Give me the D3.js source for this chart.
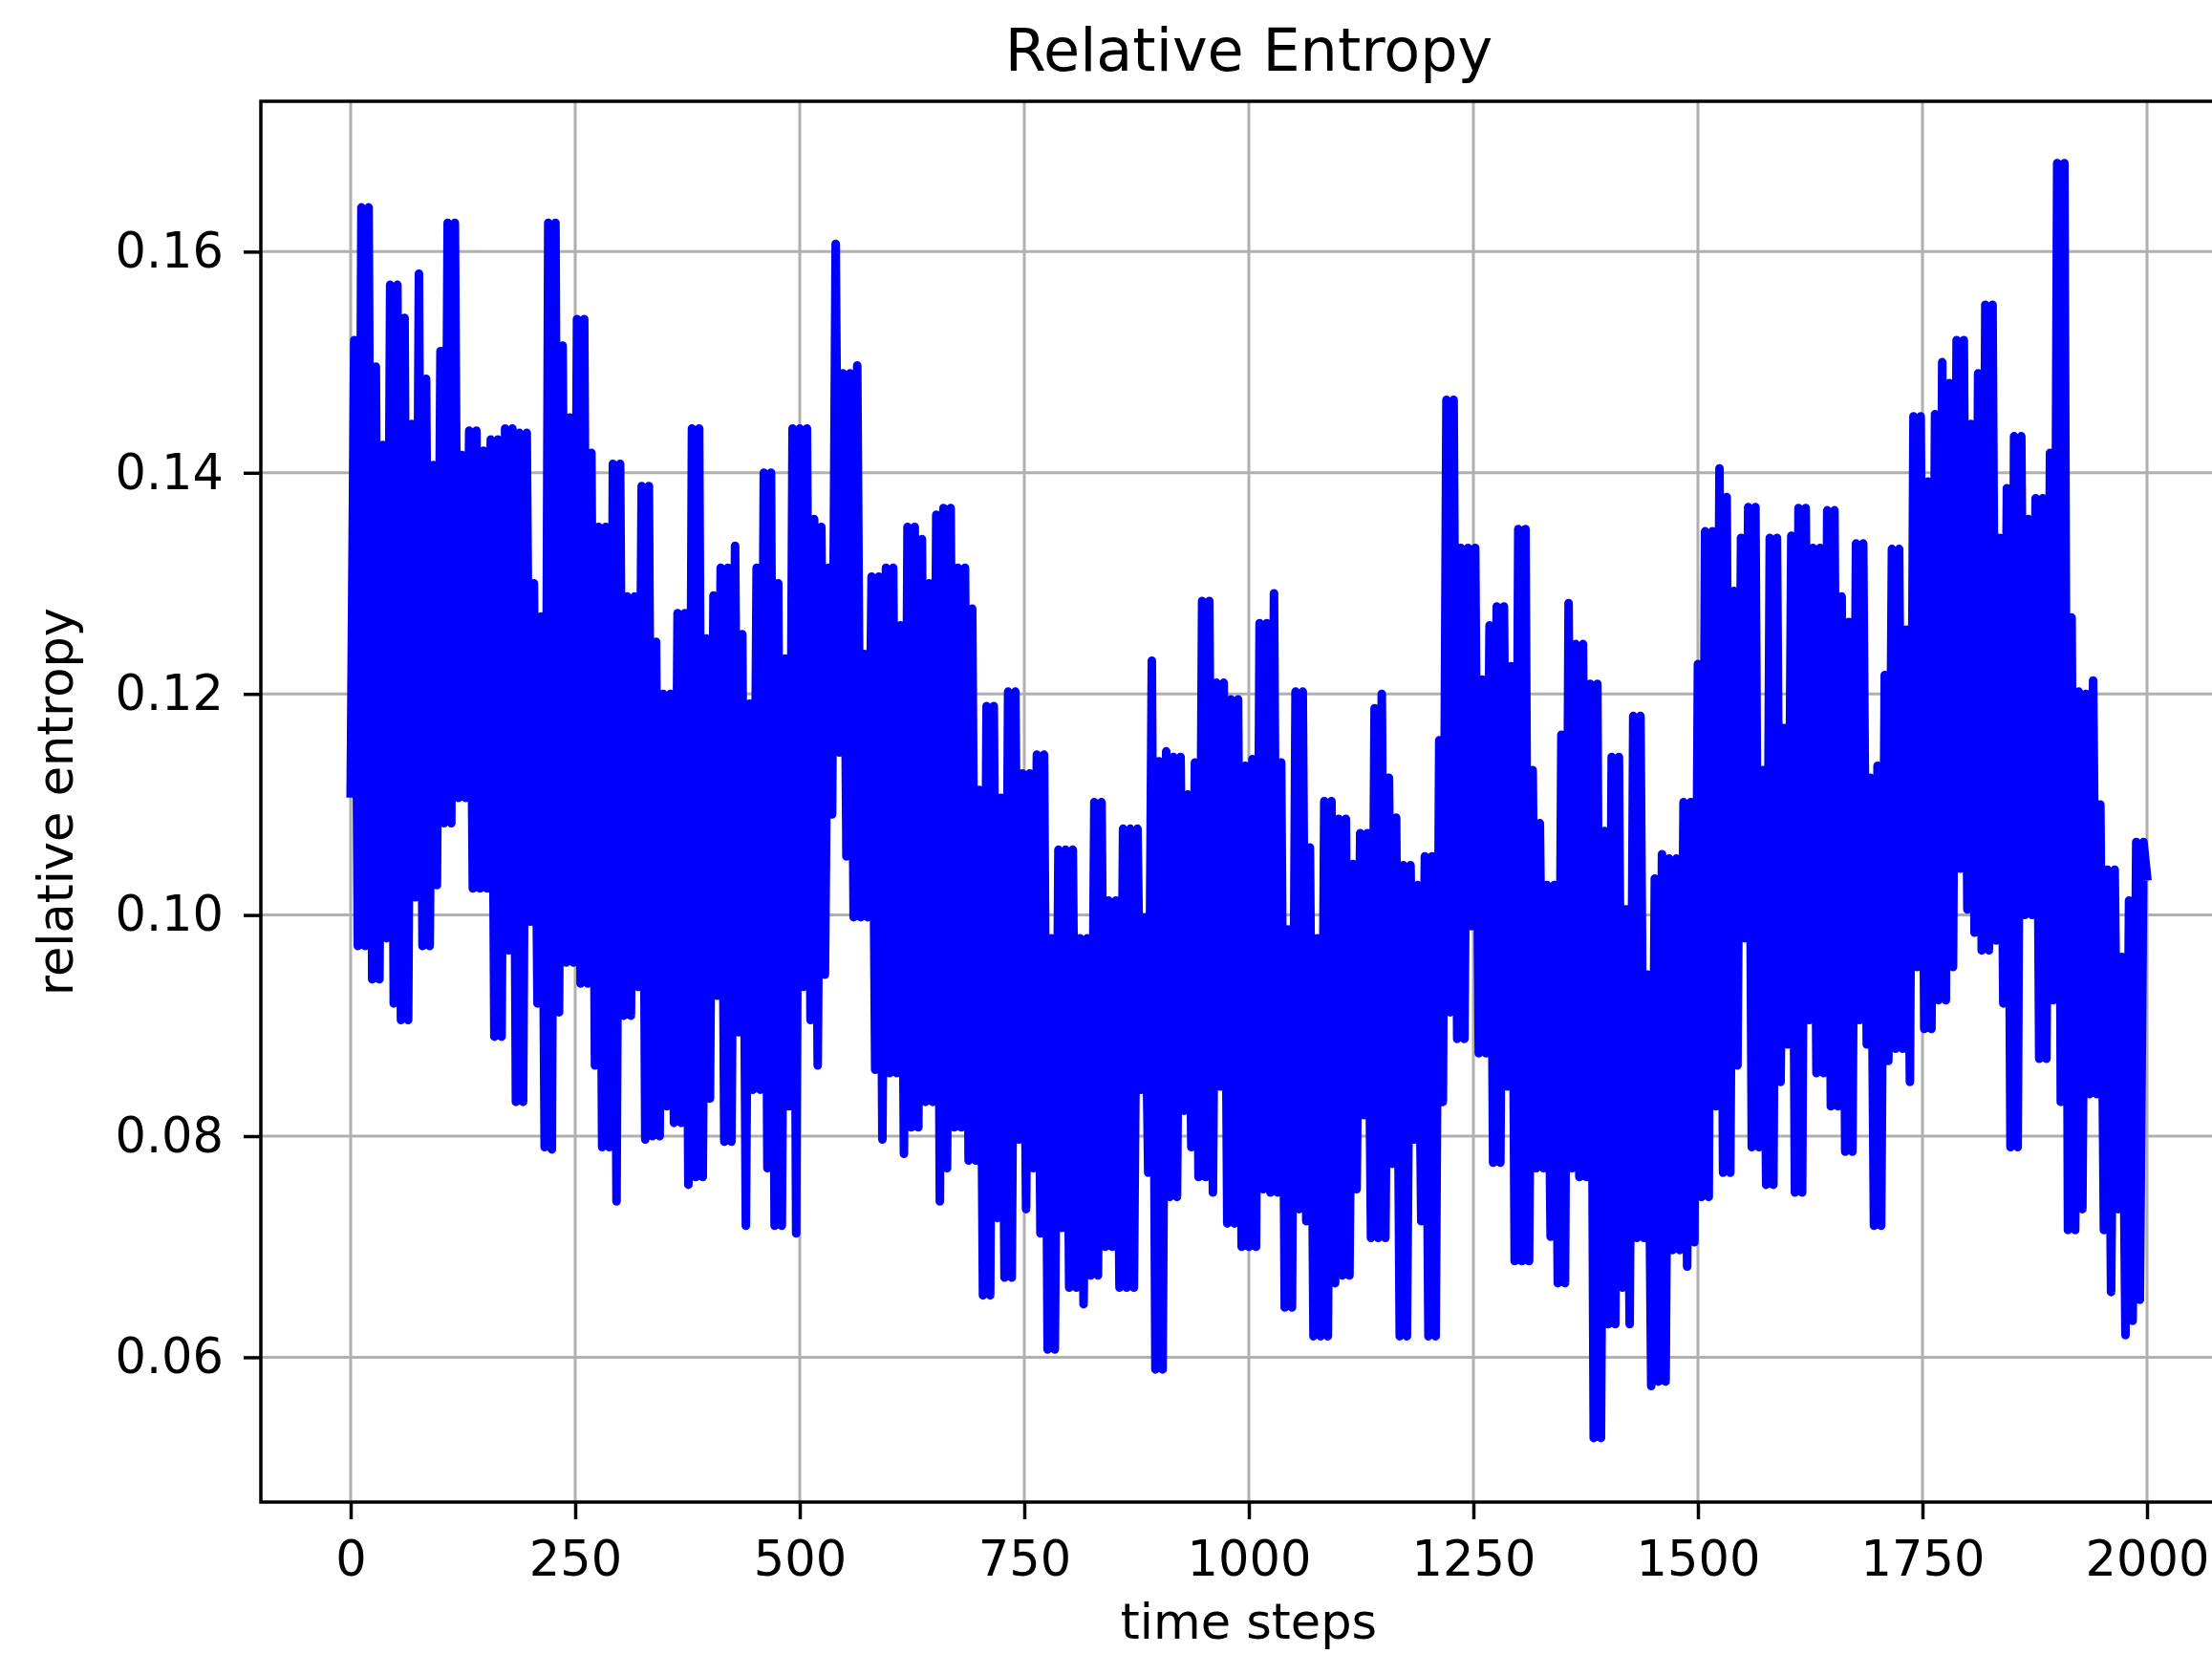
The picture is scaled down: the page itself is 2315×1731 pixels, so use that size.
<!DOCTYPE html>
<html>
<head>
<meta charset="utf-8">
<script src="https://cdn.jsdelivr.net/npm/d3@7"></script>
<style>
  html, body { margin: 0; padding: 0; background: #fff; }
  svg { display: block; }
  text { font-family: "DejaVu Sans", sans-serif; fill: #000; }
</style>
</head>
<body>
<svg id="chart" width="2315" height="1731"></svg>
<script>
// ---- data ----
const chartTitle = "Relative Entropy";
const xLabel = "time steps";
const yLabel = "relative entropy";
const xTicks = [0, 250, 500, 750, 1000, 1250, 1500, 1750, 2000];
const yTicks = [0.06, 0.08, 0.10, 0.12, 0.14, 0.16];
const stepInterval = 4; // one sample every 4 time steps, t = 0..2000
const entropy = [
  // t 0 - 248
  0.111,0.152,0.0972,0.164,0.0972,0.164,0.0942,0.1496,0.0942,0.1425,0.0979,0.157,0.092,0.157,0.0905,0.154,
  0.0905,0.1444,0.1016,0.158,0.0972,0.1485,0.0972,0.1407,0.1027,0.151,0.1083,0.1626,0.1083,0.1626,0.1106,0.1416,
  0.1106,0.1438,0.1024,0.1438,0.1024,0.142,0.1024,0.143,0.089,0.143,0.089,0.144,0.0968,0.144,0.0831,0.1436,
  0.0831,0.1436,0.0994,0.130,0.092,0.127,0.079,0.1626,0.0788,0.1626,0.0912,0.1515,0.0957,0.145,0.0957,
  // t 252 - 496
  0.1539,0.0938,0.1539,0.0938,0.1418,0.0864,0.1351,0.079,0.1351,0.079,0.1408,0.0741,0.1408,0.0909,0.1288,0.0909,
  0.1288,0.0935,0.1388,0.0797,0.1388,0.080,0.1247,0.080,0.120,0.0827,0.120,0.0812,0.1273,0.0812,0.1273,0.0756,
  0.144,0.0763,0.144,0.0763,0.125,0.0834,0.1289,0.0927,0.1314,0.0795,0.1314,0.0795,0.1334,0.0894,0.1254,0.0719,
  0.1191,0.0842,0.1314,0.0842,0.140,0.0771,0.140,0.0719,0.130,0.0719,0.1232,0.0827,0.144,0.0712,
  // t 500 - 748
  0.144,0.0935,0.144,0.0905,0.1358,0.0864,0.1351,0.0946,0.1314,0.1091,0.1607,0.1147,0.149,0.1053,0.149,0.0998,
  0.1497,0.0998,0.1236,0.0998,0.1306,0.086,0.1306,0.0797,0.1314,0.0857,0.1314,0.0857,0.1262,0.0784,0.1351,0.0808,
  0.1351,0.0808,0.134,0.0831,0.130,0.0831,0.1362,0.0741,0.1368,0.0771,0.1368,0.0808,0.1314,0.0808,0.1314,0.0778,
  0.1277,0.0778,0.1113,0.0656,0.1189,0.0656,0.1189,0.0726,0.1106,0.0672,0.1202,0.0672,0.1202,0.0797,0.1128,
  // t 752 - 996
  0.0734,0.1128,0.0771,0.1145,0.0712,0.1145,0.0607,0.0979,0.0607,0.1059,0.0717,0.1059,0.0663,0.1059,0.0663,0.0979,
  0.0648,0.0979,0.0674,0.1102,0.0674,0.1102,0.070,0.1013,0.070,0.1013,0.0663,0.1078,0.0663,0.1078,0.0663,0.1078,
  0.0842,0.0998,0.0767,0.123,0.0589,0.1139,0.0589,0.1148,0.0745,0.1143,0.0745,0.1143,0.0823,0.1109,0.079,0.1138,
  0.0763,0.1284,0.0763,0.1284,0.0749,0.121,0.0845,0.121,0.0721,0.1195,0.0721,0.1195,0.070,0.1135,
  // t 1000 - 1248
  0.070,0.1141,0.070,0.1264,0.0752,0.1264,0.0749,0.1291,0.0749,0.1138,0.0645,0.0987,0.0645,0.1202,0.0734,0.1202,
  0.0723,0.1061,0.0619,0.0979,0.0619,0.1103,0.0619,0.1103,0.0667,0.1087,0.0674,0.1087,0.0674,0.1046,0.0752,0.1074,
  0.0819,0.1074,0.0708,0.1187,0.0708,0.120,0.0708,0.1124,0.0775,0.1088,0.0619,0.1045,0.0619,0.1045,0.0797,0.1027,
  0.0723,0.1053,0.0619,0.1053,0.0619,0.1158,0.0831,0.1466,0.0912,0.1466,0.0888,0.1332,0.0888,0.1332,0.099,
  // t 1252 - 1496
  0.1332,0.0875,0.1213,0.0875,0.1262,0.0776,0.1279,0.0776,0.1279,0.0845,0.1225,0.0687,0.1349,0.0687,0.1349,0.0687,
  0.1131,0.0771,0.1083,0.0771,0.1027,0.0709,0.1027,0.0667,0.1163,0.0667,0.1282,0.0771,0.1245,0.0763,0.1245,0.0763,
  0.1209,0.0527,0.1209,0.0527,0.1076,0.063,0.1143,0.063,0.1143,0.0663,0.1005,0.063,0.118,0.0708,0.118,0.0708,
  0.0946,0.0574,0.1033,0.0578,0.1055,0.0578,0.1051,0.0697,0.1051,0.0697,0.1102,0.0682,0.1102,0.0704,
  // t 1500 - 1748
  0.1227,0.0745,0.1347,0.0745,0.1347,0.0827,0.1404,0.0767,0.1378,0.0767,0.1293,0.0864,0.1341,0.0979,0.1369,0.079,
  0.1369,0.079,0.1131,0.0756,0.1341,0.0756,0.1341,0.0849,0.1169,0.0883,0.1343,0.0749,0.1368,0.0749,0.1368,0.0905,
  0.1332,0.0857,0.1332,0.0857,0.1366,0.0827,0.1366,0.0827,0.1288,0.0786,0.1265,0.0786,0.1336,0.0905,0.1336,0.0883,
  0.1124,0.0719,0.1135,0.0719,0.1217,0.0868,0.1331,0.0879,0.1331,0.0879,0.1258,0.0849,0.1451,0.0953,0.1451,
  // t 1752 - 2000
  0.0897,0.1392,0.0897,0.1453,0.0923,0.150,0.0923,0.1481,0.0953,0.152,0.1042,0.152,0.1005,0.1444,0.0984,0.149,
  0.0968,0.1552,0.0968,0.1552,0.0977,0.1341,0.092,0.1386,0.079,0.1433,0.079,0.1433,0.100,0.1358,0.100,0.1377,
  0.087,0.1377,0.087,0.1418,0.0923,0.168,0.0831,0.168,0.0715,0.1269,0.0715,0.1202,0.0734,0.120,0.0838,0.1212,
  0.0838,0.110,0.0715,0.1041,0.0659,0.1041,0.0734,0.0962,0.062,0.1013,0.0633,0.1066,0.0652,0.1066,0.1035
];
const xDomain = [-100, 2100];
const yDomain = [0.0469, 0.1736];

// ---- layout ----
const W = 2315, H = 1731;
const plot = { left: 273, right: 2341, top: 106, bottom: 1572 };

const svg = d3.select("#chart");
svg.append("rect").attr("width", W).attr("height", H).attr("fill", "#fff");

const x = d3.scaleLinear().domain(xDomain).range([plot.left, plot.right]);
const y = d3.scaleLinear().domain(yDomain).range([plot.bottom, plot.top]);

// grid
const grid = svg.append("g").attr("class", "grid");
grid.selectAll("line.vx").data(xTicks).join("line")
  .attr("x1", d => x(d)).attr("x2", d => x(d))
  .attr("y1", plot.top).attr("y2", plot.bottom)
  .attr("stroke", "#b0b0b0").attr("stroke-width", 3);
grid.selectAll("line.hy").data(yTicks).join("line")
  .attr("x1", plot.left).attr("x2", plot.right)
  .attr("y1", d => y(d)).attr("y2", d => y(d))
  .attr("stroke", "#b0b0b0").attr("stroke-width", 3);

// data line
const pts = entropy.map((v, i) => ({ t: i * stepInterval, v }));
const line = d3.line().x(d => x(d.t)).y(d => y(d.v));
svg.append("defs").append("clipPath").attr("id", "clip")
  .append("rect").attr("x", plot.left).attr("y", plot.top)
  .attr("width", plot.right - plot.left).attr("height", plot.bottom - plot.top);
svg.append("path")
  .datum(pts)
  .attr("clip-path", "url(#clip)")
  .attr("d", line)
  .attr("fill", "none")
  .attr("stroke", "#0000ff")
  .attr("stroke-width", 9)
  .attr("stroke-linejoin", "round")
  .attr("stroke-linecap", "square");

// axes
const xAxis = d3.axisBottom(x).tickValues(xTicks).tickFormat(d3.format("d"))
  .tickSize(18).tickPadding(23).tickSizeOuter(0);
const yAxis = d3.axisLeft(y).tickValues(yTicks).tickFormat(d3.format(".2f"))
  .tickSize(18).tickPadding(21).tickSizeOuter(0);

const gx = svg.append("g").attr("transform", `translate(0,${plot.bottom})`).call(xAxis);
const gy = svg.append("g").attr("transform", `translate(${plot.left},0)`).call(yAxis);
[gx, gy].forEach(g => {
  g.select(".domain").remove();
  g.selectAll(".tick line").attr("stroke", "#000").attr("stroke-width", 3.5);
  g.selectAll(".tick text").attr("font-size", 51).attr("font-family", "DejaVu Sans").attr("fill", "#000");
});

// spines
svg.append("rect")
  .attr("x", plot.left).attr("y", plot.top)
  .attr("width", plot.right - plot.left).attr("height", plot.bottom - plot.top)
  .attr("fill", "none").attr("stroke", "#000").attr("stroke-width", 3.5);

// title and labels
const cx = (plot.left + plot.right) / 2;
svg.append("text").attr("x", cx).attr("y", 74).attr("text-anchor", "middle")
  .attr("font-size", 62).text(chartTitle);
svg.append("text").attr("x", cx).attr("y", 1715).attr("text-anchor", "middle")
  .attr("font-size", 51).text(xLabel);
svg.append("text")
  .attr("transform", `translate(76,${(plot.top + plot.bottom) / 2}) rotate(-90)`)
  .attr("text-anchor", "middle").attr("font-size", 51).text(yLabel);
</script>
</body>
</html>
